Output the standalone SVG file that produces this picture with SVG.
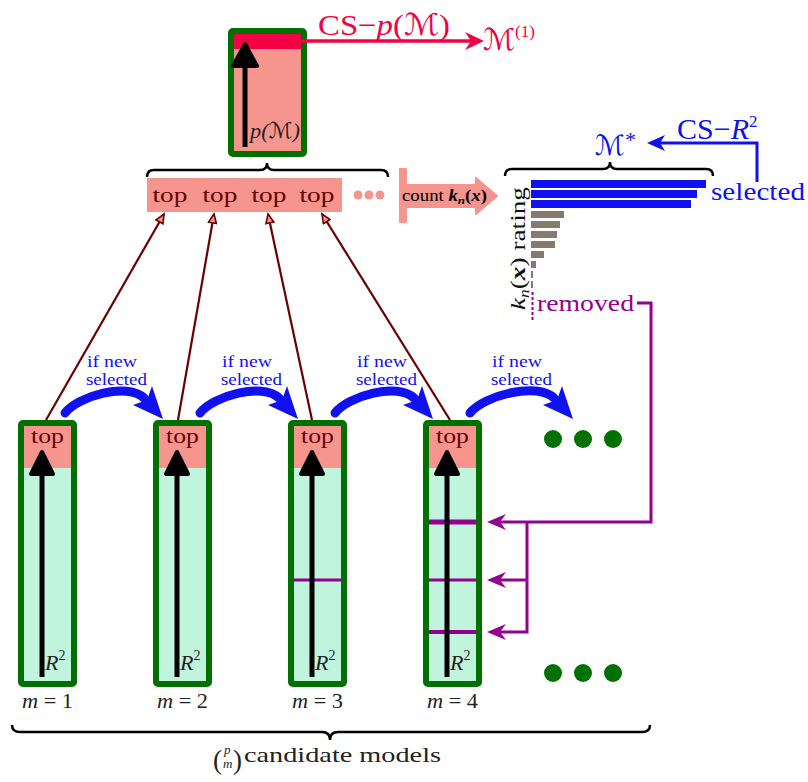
<svg xmlns="http://www.w3.org/2000/svg" width="808" height="782" viewBox="0 0 808 782" font-family="'Liberation Serif','DejaVu Serif',serif">
<defs>
<style>
text{font-family:"Liberation Serif","DejaVu Serif",serif}
.box{fill:#c1f4dd;stroke:#007000;stroke-width:6}
.sal{fill:#f5958e}
.toptxt{font-size:22px;fill:#6b0000;text-anchor:middle}
.arr{fill:none;stroke:#000;stroke-width:5}
.head{fill:#000;stroke:#000;stroke-width:4;stroke-linejoin:round}
.lab{font-size:22px;font-style:italic;fill:#222}
.mlab{font-size:22px;fill:#222}
.conn{fill:none;stroke:#6b0000;stroke-width:2.2}
.blue{fill:#1010f0}
.arc{fill:none;stroke:#1010f0;stroke-width:9;stroke-linecap:round}
.small{font-size:16px;fill:#1010f0}
.pur{fill:none;stroke:#940090;stroke-width:3}
.purf{fill:#940090}
.gray{fill:#857a6d}
.brace{fill:none;stroke:#000;stroke-width:2.5}
.dot{fill:#007000}
.scr{font-family:"DejaVu Serif","DejaVu Sans",serif;font-style:italic}
</style>
<marker id="open" markerWidth="12" markerHeight="10" refX="10" refY="5" orient="auto" markerUnits="userSpaceOnUse">
<path d="M1,1 L10,5 L1,9 Z" fill="#f5958e" stroke="#6b0000" stroke-width="1.6"/>
</marker>
</defs>
<rect width="808" height="782" fill="#fff"/>

<!-- top box -->
<g id="pbox">
<rect x="231" y="31" width="73" height="123" rx="2" fill="#f5958e" stroke="#007000" stroke-width="6"/>
<rect x="234" y="34" width="67" height="15" fill="#f50045"/>
<line x1="245" y1="147" x2="245" y2="62" class="arr"/>
<polygon points="245,44 233,66 257,66" class="head"/>
<text x="250" y="138" class="lab" textLength="50" lengthAdjust="spacingAndGlyphs">p(<tspan class="scr">ℳ</tspan>)</text>
</g>

<g id="cs-p">
<line x1="301" y1="41" x2="472" y2="41" stroke="#f50045" stroke-width="3.5"/>
<polygon points="484,41 465,32 471,41 465,50" fill="#f50045"/>
<text x="318" y="35" font-size="30" fill="#f50045" textLength="132" lengthAdjust="spacingAndGlyphs">CS−<tspan font-style="italic">p</tspan>(<tspan class="scr">ℳ</tspan>)</text>
<text x="483" y="50" font-size="30" fill="#f50045"><tspan class="scr">ℳ</tspan><tspan font-size="17" dy="-13">(1)</tspan></text>
</g>

<!-- top row -->
<g id="toprow">
<path d="M147,177 Q147,170 154,170 L260,170 Q267,170 267,163 Q267,170 274,170 L381,170 Q388,170 388,177" class="brace"/>
<rect x="147" y="178" width="195" height="34" class="sal"/>
<text x="170" y="202" class="toptxt" textLength="35" lengthAdjust="spacingAndGlyphs">top</text>
<text x="220" y="202" class="toptxt" textLength="35" lengthAdjust="spacingAndGlyphs">top</text>
<text x="269" y="202" class="toptxt" textLength="35" lengthAdjust="spacingAndGlyphs">top</text>
<text x="317" y="202" class="toptxt" textLength="35" lengthAdjust="spacingAndGlyphs">top</text>
<circle cx="358" cy="195" r="4.5" class="sal"/>
<circle cx="369" cy="195" r="4.5" class="sal"/>
<circle cx="380" cy="195" r="4.5" class="sal"/>
</g>

<g id="count">
<path d="M400,169 L406,169 L406,185 L476,185 L476,178 L497,196 L476,214 L476,207 L406,207 L406,222 L400,222 Z" fill="#f5958e" stroke="#f5958e" stroke-width="2" stroke-linejoin="round"/>
<text x="402" y="201" font-size="16" fill="#000" textLength="85" lengthAdjust="spacingAndGlyphs">count <tspan font-style="italic" font-weight="bold">k</tspan><tspan font-style="italic" font-weight="bold" font-size="11" dy="3">n</tspan><tspan font-weight="bold" dy="-3">(</tspan><tspan font-weight="bold" font-style="italic">x</tspan><tspan font-weight="bold">)</tspan></text>
</g>

<!-- rating -->
<g id="rating">
<path d="M505,176 Q505,169 512,169 L603,169 Q610,169 610,162 Q610,169 617,169 L706,169 Q713,169 713,176" class="brace"/>
<rect x="531" y="180" width="175" height="8" class="blue"/>
<rect x="531" y="190" width="166" height="8" class="blue"/>
<rect x="531" y="200" width="160" height="8" class="blue"/>
<rect x="531" y="211" width="33" height="7" class="gray"/>
<rect x="531" y="221" width="29" height="7" class="gray"/>
<rect x="531" y="231" width="26" height="7" class="gray"/>
<rect x="531" y="241" width="24" height="7" class="gray"/>
<rect x="531" y="251" width="13" height="7" class="gray"/>
<rect x="531" y="261" width="5" height="7" class="gray"/>
<rect x="531" y="271" width="2" height="7" class="gray"/>
<rect x="531" y="281" width="2" height="7" class="gray"/>
<line x1="532.5" y1="292" x2="532.5" y2="320" stroke="#940090" stroke-width="2" stroke-dasharray="3,2"/>
<text transform="translate(525,310) rotate(-90)" font-size="22" fill="#111" textLength="123" lengthAdjust="spacingAndGlyphs"><tspan font-style="italic">k</tspan><tspan font-style="italic" font-size="14" dy="4">n</tspan><tspan dy="-4">(</tspan><tspan font-weight="bold" font-style="italic">x</tspan>) rating</text>
<text x="711" y="200" font-size="25" fill="#1010f0" textLength="94" lengthAdjust="spacingAndGlyphs">selected</text>
<text x="537" y="311" font-size="23" fill="#940090" textLength="97" lengthAdjust="spacingAndGlyphs">removed</text>
</g>

<g id="cs-r2">
<path d="M757,182 L757,143 L660,143" fill="none" stroke="#1010f0" stroke-width="3"/>
<polygon points="647,143 665,135 660,143 665,151" fill="#1010f0"/>
<text x="677" y="139" font-size="30" fill="#1010f0">CS−<tspan font-style="italic">R</tspan><tspan font-size="17" dy="-12">2</tspan></text>
<text x="595" y="155" font-size="28" fill="#1010f0"><tspan class="scr">ℳ</tspan><tspan font-size="22" dy="-8">*</tspan></text>
</g>

<!-- columns -->
<g id="m1">
<rect x="21" y="423" width="53" height="261" rx="2" class="box"/>
<rect x="24" y="426" width="47" height="42" class="sal"/>
<text x="47.5" y="443" class="toptxt" textLength="33" lengthAdjust="spacingAndGlyphs">top</text>
<line x1="42" y1="677" x2="42" y2="470" class="arr"/>
<polygon points="42,452 31,474 53,474" class="head"/>
<text x="45" y="670" class="lab" font-size="23">R<tspan font-size="14" dy="-10" font-style="normal">2</tspan></text>
<text x="22" y="708" class="mlab" textLength="51" lengthAdjust="spacingAndGlyphs"><tspan font-style="italic">m</tspan> = 1</text>
</g>
<g id="m2">
<rect x="156" y="423" width="53" height="261" rx="2" class="box"/>
<rect x="159" y="426" width="47" height="42" class="sal"/>
<text x="182.5" y="443" class="toptxt" textLength="33" lengthAdjust="spacingAndGlyphs">top</text>
<line x1="177" y1="677" x2="177" y2="470" class="arr"/>
<polygon points="177,452 166,474 188,474" class="head"/>
<text x="180" y="670" class="lab" font-size="23">R<tspan font-size="14" dy="-10" font-style="normal">2</tspan></text>
<text x="157" y="708" class="mlab" textLength="51" lengthAdjust="spacingAndGlyphs"><tspan font-style="italic">m</tspan> = 2</text>
</g>
<g id="m3">
<rect x="291" y="423" width="53" height="261" rx="2" class="box"/>
<rect x="294" y="426" width="47" height="42" class="sal"/>
<line x1="294" y1="580" x2="341" y2="580" stroke="#940090" stroke-width="3"/>
<text x="317.5" y="443" class="toptxt" textLength="33" lengthAdjust="spacingAndGlyphs">top</text>
<line x1="312" y1="677" x2="312" y2="470" class="arr"/>
<polygon points="312,452 301,474 323,474" class="head"/>
<text x="315" y="670" class="lab" font-size="23">R<tspan font-size="14" dy="-10" font-style="normal">2</tspan></text>
<text x="292" y="708" class="mlab" textLength="51" lengthAdjust="spacingAndGlyphs"><tspan font-style="italic">m</tspan> = 3</text>
</g>
<g id="m4">
<rect x="426" y="423" width="53" height="261" rx="2" class="box"/>
<rect x="429" y="426" width="47" height="42" class="sal"/>
<line x1="429" y1="522" x2="476" y2="522" stroke="#940090" stroke-width="5"/>
<line x1="429" y1="580" x2="476" y2="580" stroke="#940090" stroke-width="3"/>
<line x1="429" y1="632" x2="476" y2="632" stroke="#940090" stroke-width="4"/>
<text x="452.5" y="443" class="toptxt" textLength="33" lengthAdjust="spacingAndGlyphs">top</text>
<line x1="447" y1="677" x2="447" y2="470" class="arr"/>
<polygon points="447,452 436,474 458,474" class="head"/>
<text x="450" y="670" class="lab" font-size="23">R<tspan font-size="14" dy="-10" font-style="normal">2</tspan></text>
<text x="427" y="708" class="mlab" textLength="51" lengthAdjust="spacingAndGlyphs"><tspan font-style="italic">m</tspan> = 4</text>
</g>
<g id="more">
<circle cx="553" cy="439" r="9" class="dot"/>
<circle cx="583" cy="439" r="9" class="dot"/>
<circle cx="613" cy="439" r="9" class="dot"/>
<circle cx="553" cy="673" r="9" class="dot"/>
<circle cx="583" cy="673" r="9" class="dot"/>
<circle cx="613" cy="673" r="9" class="dot"/>
</g>

<g id="candidates">
<path d="M12,725 Q12,732 20,732 L322,732 Q330,732 330,740 Q330,732 338,732 L642,732 Q650,732 650,725" class="brace"/>
<text x="213" y="769" font-size="27" fill="#222">(</text>
<text x="224" y="754" font-size="13" font-style="italic" fill="#222">p</text>
<text x="223" y="768" font-size="13" font-style="italic" fill="#222">m</text>
<text x="233" y="769" font-size="27" fill="#222">)</text>
<text x="244" y="762" font-size="22" fill="#222" textLength="197" lengthAdjust="spacingAndGlyphs">candidate models</text>
</g>

<!-- connectors -->
<g id="connectors">
<line x1="46" y1="420" x2="164" y2="214" class="conn" marker-end="url(#open)"/>
<line x1="178" y1="420" x2="214" y2="214" class="conn" marker-end="url(#open)"/>
<line x1="312" y1="420" x2="268" y2="214" class="conn" marker-end="url(#open)"/>
<line x1="450" y1="420" x2="322" y2="214" class="conn" marker-end="url(#open)"/>

<g id="arc1">
<path d="M65,413 C78,396 128,382 144,398" class="arc"/>
<polygon points="163,419 133,405 147,400 152,386" class="blue"/>
<text x="87" y="367" class="small" textLength="50" lengthAdjust="spacingAndGlyphs">if new</text>
<text x="86" y="385" class="small" textLength="61" lengthAdjust="spacingAndGlyphs">selected</text>
</g>
<g id="arc2" transform="translate(135,0)">
<path d="M65,413 C78,396 128,382 144,398" class="arc"/>
<polygon points="163,419 133,405 147,400 152,386" class="blue"/>
<text x="87" y="367" class="small" textLength="50" lengthAdjust="spacingAndGlyphs">if new</text>
<text x="86" y="385" class="small" textLength="61" lengthAdjust="spacingAndGlyphs">selected</text>
</g>
<g id="arc3" transform="translate(270,0)">
<path d="M65,413 C78,396 128,382 144,398" class="arc"/>
<polygon points="163,419 133,405 147,400 152,386" class="blue"/>
<text x="87" y="367" class="small" textLength="50" lengthAdjust="spacingAndGlyphs">if new</text>
<text x="86" y="385" class="small" textLength="61" lengthAdjust="spacingAndGlyphs">selected</text>
</g>
<g id="arc4" transform="translate(405,0)">
<path d="M65,413 C80,395 132,382 149,398" class="arc"/>
<polygon points="168,419 138,405 152,400 157,386" class="blue"/>
<text x="87" y="367" class="small" textLength="50" lengthAdjust="spacingAndGlyphs">if new</text>
<text x="86" y="385" class="small" textLength="61" lengthAdjust="spacingAndGlyphs">selected</text>
</g>

<g id="removed-links">
<path d="M637,303 L651,303 L651,522 L500,522" class="pur"/>
<path d="M527,522 L527,632 L500,632" class="pur"/>
<path d="M527,580 L500,580" class="pur"/>
<polygon points="487,522 506,514 500,522 506,530" class="purf"/>
<polygon points="487,580 506,572 500,580 506,588" class="purf"/>
<polygon points="487,632 506,624 500,632 506,640" class="purf"/>
</g>
</g>
</svg>
